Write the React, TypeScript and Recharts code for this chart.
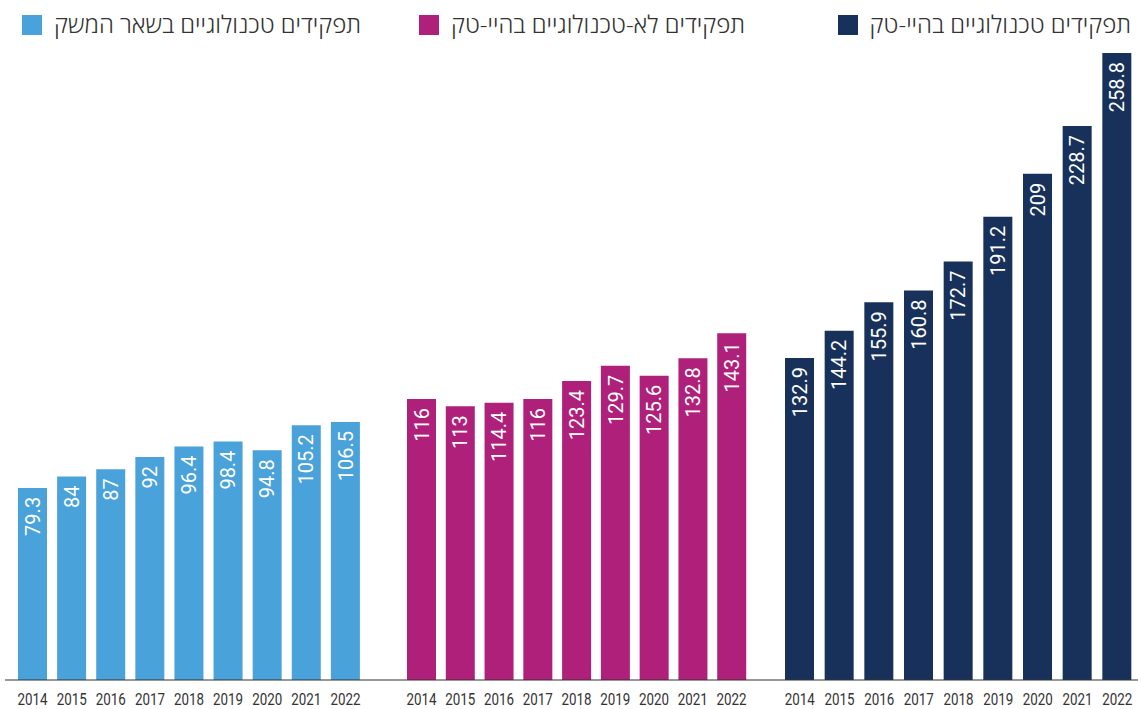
import { Bar, BarChart, Cell, LabelList, XAxis, YAxis } from 'recharts';

const years = ['2014', '2015', '2016', '2017', '2018', '2019', '2020', '2021', '2022'];

// אלפי משרות
const otherEconomy = [79.3, 84, 87, 92, 96.4, 98.4, 94.8, 105.2, 106.5];
const nonTechHighTech = [116, 113, 114.4, 116, 123.4, 129.7, 125.6, 132.8, 143.1];
const techHighTech = [132.9, 144.2, 155.9, 160.8, 172.7, 191.2, 209, 228.7, 258.8];

const seriesNames = [
  'תפקידים טכנולוגיים בשאר המשק',
  'תפקידים לא-טכנולוגיים בהיי-טק',
  'תפקידים טכנולוגיים בהיי-טק',
];

const colors = ['#4aa2da', '#ae2079', '#17315b'];

const Y_MAX = 258.8;
const HEIGHT = 709;

const ValueLabel = (props: any) => {
  const { x, y, width, value } = props;
  const cx = x + width / 2;
  const ty = y + 9;
  return (
    <text
      x={cx}
      y={ty}
      transform={`rotate(-90, ${cx}, ${ty})`}
      textAnchor="end"
      dy="0.36em"
      fill="#ffffff"
      fontSize={20}
      fontFamily="Roboto, sans-serif"
    >
      {value}
    </text>
  );
};

const YearTick = (props: any) => {
  const { x, y, payload } = props;
  return (
    <text
      x={x}
      y={y}
      dy={17}
      textAnchor="middle"
      fill="#333"
      fontSize={16}
      fontFamily="Roboto, sans-serif"
      textLength={30}
      lengthAdjust="spacingAndGlyphs"
    >
      {payload.value}
    </text>
  );
};

type GroupProps = {
  values: number[];
  color: string;
  left: number;
  width: number;
  marginLeft: number;
  padLeft: number;
  padRight: number;
};

function GroupChart({ values, color, left, width, marginLeft, padLeft, padRight }: GroupProps) {
  const data = years.map((year, i) => ({ year, value: values[i] }));
  return (
    <div style={{ position: 'absolute', left, top: 0 }}>
      <BarChart
        width={width}
        height={HEIGHT}
        data={data}
        margin={{ top: 53, right: 0, bottom: 0, left: marginLeft }}
        barSize={29}
      >
        <XAxis
          dataKey="year"
          interval={0}
          height={29}
          tickLine={false}
          axisLine={{ stroke: '#333', strokeWidth: 1.2 }}
          tick={<YearTick />}
          padding={{ left: padLeft, right: padRight }}
        />
        <YAxis hide domain={[0, Y_MAX]} />
        <Bar dataKey="value" fill={color} isAnimationActive={false}>
          {data.map((d) => (
            <Cell key={d.year} fill={color} />
          ))}
          <LabelList dataKey="value" content={<ValueLabel />} />
        </Bar>
      </BarChart>
    </div>
  );
}

const legendItems = [
  { name: seriesNames[0], color: colors[0], right: 1138 - 361 },
  { name: seriesNames[1], color: colors[1], right: 1138 - 745 },
  { name: seriesNames[2], color: colors[2], right: 1138 - 1131 },
];

export default function App() {
  return (
    <div
      style={{
        position: 'absolute',
        left: 0,
        top: 0,
        width: 1138,
        height: HEIGHT,
        background: '#fff',
        overflow: 'hidden',
      }}
    >
      <GroupChart values={otherEconomy} color={colors[0]} left={0} width={383} marginLeft={5} padLeft={8} padRight={18} />
      <GroupChart values={nonTechHighTech} color={colors[1]} left={383} width={383} marginLeft={0} padLeft={19} padRight={15} />
      <GroupChart values={techHighTech} color={colors[2]} left={766} width={372} marginLeft={0} padLeft={14} padRight={1} />
      {legendItems.map((item) => (
        <div
          key={item.name}
          style={{
            position: 'absolute',
            top: 10,
            right: item.right,
            display: 'flex',
            flexDirection: 'row-reverse',
            alignItems: 'center',
            gap: 12,
            direction: 'rtl',
            fontFamily: "'Open Sans', 'DejaVu Sans', sans-serif",
            fontWeight: 300,
            fontSize: 24,
            color: '#333',
            whiteSpace: 'nowrap',
            lineHeight: '28px',
          }}
        >
          <span style={{ width: 20, height: 20, marginTop: 2, background: item.color, display: 'inline-block' }} />
          <span>{item.name}</span>
        </div>
      ))}
    </div>
  );
}
